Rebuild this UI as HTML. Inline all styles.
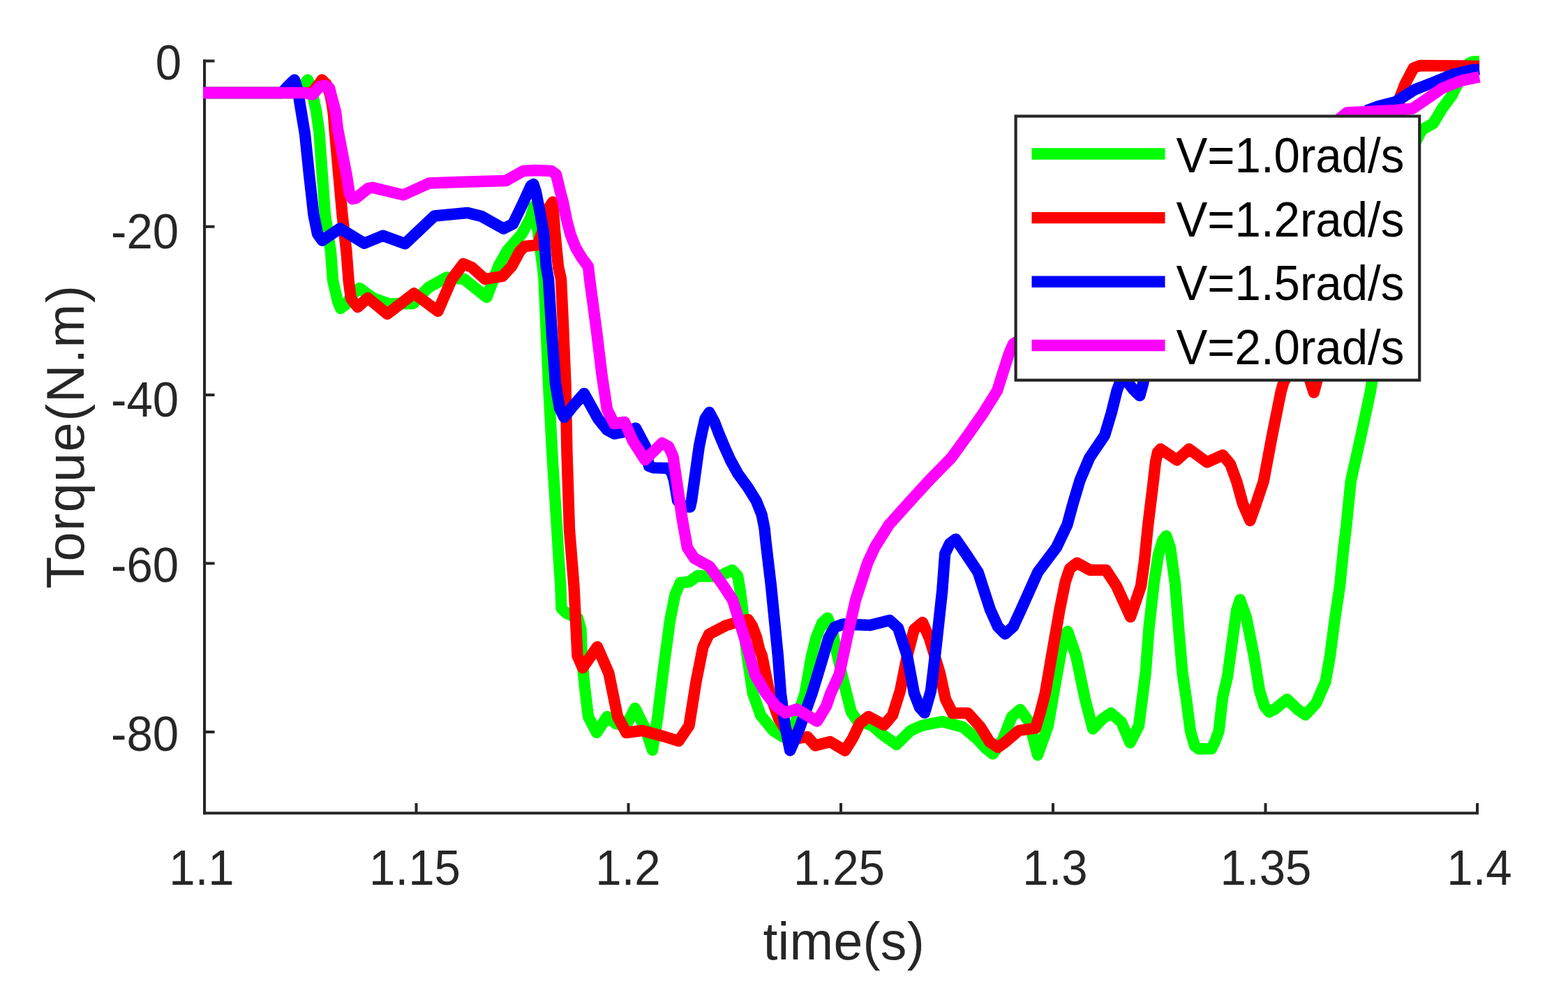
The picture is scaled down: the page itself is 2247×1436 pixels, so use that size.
<!DOCTYPE html>
<html lang="en">
<head>
<meta charset="utf-8">
<title>Torque vs time</title>
<style>
html,body{margin:0;padding:0;background:#fff;}
body{width:2247px;height:1436px;overflow:hidden;}
svg{display:block;}
text{font-family:"Liberation Sans",Arial,Helvetica,sans-serif;}
.tick{font-size:67.2px;fill:#262626;}
.lab{font-size:75.2px;fill:#262626;}
.leg{font-size:67.2px;fill:#000;}
.curve{fill:none;stroke-width:16.4;stroke-linejoin:round;stroke-linecap:butt;}
</style>
</head>
<body>
<svg xmlns="http://www.w3.org/2000/svg" width="2247" height="1436" viewBox="0 0 2247 1436">
<rect x="0" y="0" width="2247" height="1436" fill="#fff"/>

<g fill="#262626">
<rect x="291" y="85.4" width="4" height="1081.9"/>
<rect x="291" y="1163.3" width="1828" height="4"/>
<rect x="291" y="85.4" width="16.5" height="4"/>
<rect x="291" y="322.8" width="16.5" height="4"/>
<rect x="291" y="564" width="16.5" height="4"/>
<rect x="291" y="805.4" width="16.5" height="4"/>
<rect x="291" y="1047" width="16.5" height="4"/>
<rect x="594.5" y="1151" width="4" height="14"/>
<rect x="898.5" y="1151" width="4" height="14"/>
<rect x="1203" y="1151" width="4" height="14"/>
<rect x="1507" y="1151" width="4" height="14"/>
<rect x="1811.5" y="1151" width="4" height="14"/>
<rect x="2115" y="1151" width="4" height="14"/>
</g>
<clipPath id="plotclip"><rect x="289" y="76" width="1834" height="1091"/></clipPath>
<g clip-path="url(#plotclip)">
<polyline class="curve" stroke="#00ff00" points="291,133 430,133 436,121 441,114.5 446,126 450,145 453.3,160 457.3,188 466,308 474,361 477,402 484,432 488,442 496,436 505,422 515,413 535,427.5 558,435.5 592,435 614,412 640,397.5 665,400 697.5,426 715,380 727,359 747.5,335.7 760,313 765,296 768,312 772,340 778,385 779.5,400 786,550 791.3,650 798.2,759 800.7,800 803.4,840 804.5,872 812,879 828,886 832.5,902 834,945 838,985 843,1027 855,1050 870,1027 882.5,1037 897,1040 910,1015 925,1045 935,1075 942.5,1027 950,965 960,890 967.5,852 975,835 987.5,834 1000,825 1012,826 1030,826 1049.5,817 1057,825 1060.8,846.8 1064.2,873.6 1068,920 1070.7,940 1078.8,993.5 1090,1025 1108,1047 1122,1056 1132,1056 1140,1035 1153.6,993.5 1163,940 1169.5,914 1178,893 1186,885.6 1193,905 1198,930 1206,965 1213,993.5 1219.8,1020 1228,1032 1250,1040 1265,1053 1284.7,1067 1305,1047 1320.7,1040 1350,1034 1380,1042 1400,1059 1412,1072 1422.9,1080.4 1437,1060 1450,1027 1462,1017 1475,1035 1487,1082 1502,1040 1515,965 1525,910 1530,905 1542,940 1555,1002 1566,1044.5 1580,1030 1592,1022 1607,1035 1619.5,1064.5 1632,1040 1641.7,964 1646.5,900 1653.7,836 1660,795 1666,775 1671.3,768 1677,785 1684,836 1689,900 1694.5,964 1700,1002 1706,1048 1712,1069 1718,1073.4 1736,1073 1741,1063 1746.6,1048 1752,1000 1759,970 1766.5,915 1772,875 1777,859.4 1786,885 1797,940 1805,990 1812,1012 1818.8,1020.5 1826,1017 1844.4,1002.2 1860,1017 1870.8,1024.5 1886,1008 1899.5,977 1906,940 1912.5,890 1920,840 1925,790 1929.3,754 1935.7,690 1950,626 1963.7,562 1966,547.6 1990,400 2020,220 2037.8,185.7 2053.8,177 2067,155 2080.5,137 2095,108 2105,91 2110,88.6 2120,88"/>
<polyline class="curve" stroke="#ff0000" points="291,133 447,133 455,123 461.5,114.5 468,121 473,135 476,150 478,165 479.5,185 490.5,308 496.5,361 499.6,402 503,428 512.5,440 527.2,427 555,450 593.3,420.5 627.5,446 647.5,400 664,378 676,383 695,400 720,396 733,382 745,360 752,353 770,351 780,325 787,297 792,289.5 795.5,336 800,382 804,400 807,465 810.5,550 812.5,650 816,759 822.5,840 827.5,940 835,957 856,927 872.5,965 885,1027 897.5,1050 920,1047 950,1055 972.5,1062 987.5,1040 997.5,977 1007.5,927 1016,909 1040,896.5 1055,892 1072,888 1078,897 1084.2,913.7 1088,930 1092,940 1102.8,993.5 1116,1030 1130,1052 1145,1058 1157,1056 1168.3,1068.5 1189.7,1063 1211,1075.7 1222,1058 1232,1037 1244.5,1027 1267,1039 1279,1025 1290,990 1300,940 1310,902 1322,892 1332,915 1347,965 1355,1002 1365,1022 1387,1022 1405,1042 1418,1063 1430,1071 1440,1064 1460,1047 1484,1043.5 1491,1020 1497.8,993.5 1507,940 1518.6,873.7 1526.7,833.6 1533,815 1543.4,806.8 1562,817 1585,817 1600,840 1620,884 1635,840 1640,804 1645,754 1652.8,690 1656,662 1659,648 1663.2,643.5 1686.5,659.3 1704,643.5 1729.7,662.5 1752.2,652.3 1763,665 1772.2,690 1781,722 1791.4,746 1800,722 1810.7,690 1822.7,626 1835.5,562 1839.5,547.6 1850,530 1874,535 1882.8,562.4 1890,535 1993,400 2000,250 2003,170 2006,140 2013.7,120 2025.7,97.4 2035,94 2100,94.5 2120,95"/>
<polyline class="curve" stroke="#0000ff" points="291,133 404,133 414,122 422,114.5 427,130 430,150 437,192 443,250 449.5,308 455,335 461.7,344.7 487.3,327.4 522,348.8 548.7,337.7 580.5,349.3 622.5,309.5 670,305 690,310 721.5,327.7 735,321 750,290 761,266 764.5,264 768,275 773,300 779.4,335.7 782.8,382 786,400 791,480 796,550 802,585 808.5,598 822,581 837,564 857,600 870,616 880.3,621.6 895,619 911,613.6 925,640 930,668 937,670.4 956,671 962,676 966,688 971,717.5 980,726 989,726.5 991,717.5 996.5,678.5 1001.9,639.5 1006,620 1010.5,600 1016.5,591 1024,605 1029.6,620 1038,640 1046.8,659.5 1057.5,679 1071.7,698.5 1083.8,718 1091.6,737.5 1095.5,757 1097.5,776.5 1105,840 1114.9,940 1118.9,993.5 1125,1040 1132.2,1075.5 1140,1058 1147,1040 1156,1015 1163.7,993.5 1171.8,967 1187.8,913.7 1196,899 1208,894.5 1247,896 1275,889 1287,900 1300,940 1310,993.5 1318,1014 1325,1021.6 1334,990 1341.5,927 1350.2,847 1354.2,793.5 1361,779 1369.6,772.7 1385,795 1401.7,820.2 1419,873.7 1430,898 1440.4,908.5 1452,898 1463.2,873.7 1487.2,820.2 1514,784.4 1529.3,752.3 1538,720.3 1547.7,688 1561.3,656 1583,624 1592.6,592 1600.6,560 1606,545 1614,545 1624,558 1633.3,567 1638,550 1642,530 1750,400 1900,200 1945,175 1960,158 1973.6,152.8 2000,146 2027,128.7 2054,118 2080.5,107.3 2107,100.6 2120,99.3"/>
<polyline class="curve" stroke="#ff00ff" points="291,133 436,133 448,135.5 458,124 466,122.5 472,126 475,138 481,160 484,185 496.7,251 501,278 505,285 510,284 527.5,270 533.7,268.7 578,279.4 615,262.5 655,261 725,259 750,245 767.5,244 790,245 797,250 803,275 807,290 812,315 817.5,336 825,355 834,370 843,382 845,400 855,475 862.5,537 870,587 880,607 895,605 907,632 924.4,659 948.7,635 958,640 964.5,654 975,725 977,740 985,785 995,800 1017,812 1037,840 1050,860 1066.8,913.7 1082,967 1097.5,993.5 1112,1012 1125.6,1021.6 1141.6,1016.2 1171,1033.6 1184,1012 1190.4,993.5 1202.5,967 1214,913.7 1226,860 1243.3,806.7 1253.6,784.4 1273.7,752.3 1302.5,720.3 1332,688 1363.4,656 1386.6,624 1409,592 1429,560 1437.4,533.5 1446,506.7 1452,493 1600,400 1850,220 1910,180 1922,168 1930,161.5 1950,160.5 2000,158 2024,155.7 2040,145 2067,126.3 2094,115.6 2120,110.3"/>
</g>

<text class="tick" transform="translate(260.2,114.4) scale(1,1.06)" text-anchor="end">0</text>
<text class="tick" transform="translate(256.2,355.7) scale(1,1.06)" text-anchor="end">-20</text>
<text class="tick" transform="translate(256.2,597) scale(1,1.06)" text-anchor="end">-40</text>
<text class="tick" transform="translate(256.2,834.2) scale(1,1.06)" text-anchor="end">-60</text>
<text class="tick" transform="translate(256.2,1075.7) scale(1,1.06)" text-anchor="end">-80</text>
<text class="tick" transform="translate(289,1267.5) scale(1,1.06)" text-anchor="middle">1.1</text>
<text class="tick" transform="translate(594.5,1267.5) scale(1,1.06)" text-anchor="middle">1.15</text>
<text class="tick" transform="translate(900,1267.5) scale(1,1.06)" text-anchor="middle">1.2</text>
<text class="tick" transform="translate(1202.5,1267.5) scale(1,1.06)" text-anchor="middle">1.25</text>
<text class="tick" transform="translate(1512,1267.5) scale(1,1.06)" text-anchor="middle">1.3</text>
<text class="tick" transform="translate(1814,1267.5) scale(1,1.06)" text-anchor="middle">1.35</text>
<text class="tick" transform="translate(2120,1267.5) scale(1,1.06)" text-anchor="middle">1.4</text>
<text class="lab" x="1209.2" y="1375.3" text-anchor="middle" letter-spacing="0.25">time(s)</text>
<text class="lab" transform="translate(120.2,625.6) rotate(-90)" text-anchor="middle" letter-spacing="1.7">Torque(N.m)</text>
<rect x="1455.6" y="166.5" width="578.6" height="378.3" fill="#fff" stroke="#262626" stroke-width="4.2"/>
<line x1="1478.5" x2="1669.5" y1="220.5" y2="220.5" stroke="#00ff00" stroke-width="16.4"/>
<text class="leg" transform="translate(1685.5,246.6) scale(1,1.05)">V=1.0rad/s</text>
<line x1="1478.5" x2="1669.5" y1="312.1" y2="312.1" stroke="#ff0000" stroke-width="16.4"/>
<text class="leg" transform="translate(1685.5,338.5) scale(1,1.05)">V=1.2rad/s</text>
<line x1="1478.5" x2="1669.5" y1="403.7" y2="403.7" stroke="#0000ff" stroke-width="16.4"/>
<text class="leg" transform="translate(1685.5,430) scale(1,1.05)">V=1.5rad/s</text>
<line x1="1478.5" x2="1669.5" y1="495" y2="495" stroke="#ff00ff" stroke-width="16.4"/>
<text class="leg" transform="translate(1685.5,522) scale(1,1.05)">V=2.0rad/s</text>
</svg>
</body>
</html>
